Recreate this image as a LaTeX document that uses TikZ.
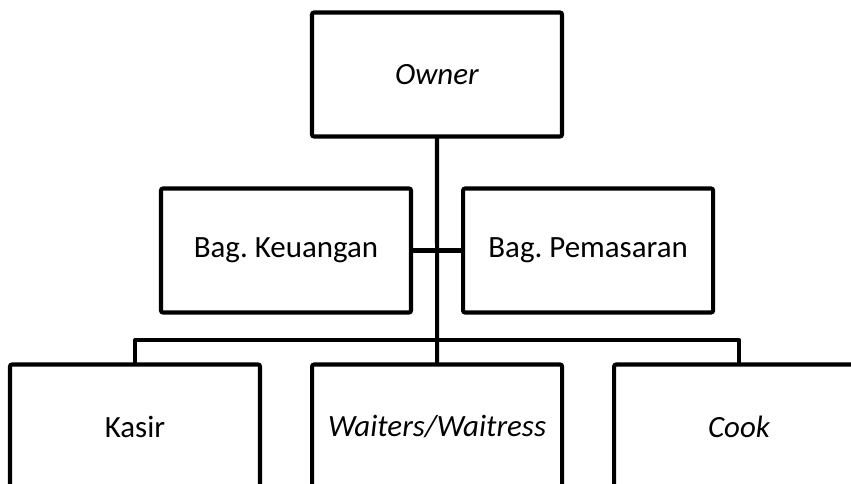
\documentclass[tikz,border=0pt]{standalone}
\usepackage{fontspec}
\setmainfont{Carlito}
\usetikzlibrary{positioning}
\frenchspacing

\begin{document}
\begin{tikzpicture}[
x=0.025cm, y=-0.025cm,
node distance=1.3cm,
box/.style={rectangle, draw, line width=2.9pt, rounded corners=1.5pt, outer sep=0pt, minimum width=6.25cm, minimum height=3.1cm, font=\fontsize{22}{26}\selectfont},
line/.style={line width=2.9pt, line join=round}
]
\useasboundingbox (0,0) rectangle (851,484);
\clip (0,0) rectangle (851,484);
\node[box] (owner) at (437,74.5) {\textit{Owner}};
\node[box] (keuangan) at (286,250.5) {Bag. Keuangan};
\node[box, right=of keuangan] (pemasaran) {Bag. Pemasaran};
\node[box] (kasir) at (135,426.5) {Kasir};
\node[box, right=of kasir] (waiters) {\textit{Waiters/Waitress}};
\node[box, right=of waiters] (cook) {\textit{Cook}};
\coordinate (bus) at (437,340);
\draw[line] (owner.south) -- (waiters.north);
\draw[line] (keuangan.east) -- (pemasaran.west);
\draw[line] (kasir.north) |- (bus) -| (cook.north);
\end{tikzpicture}
\end{document}
